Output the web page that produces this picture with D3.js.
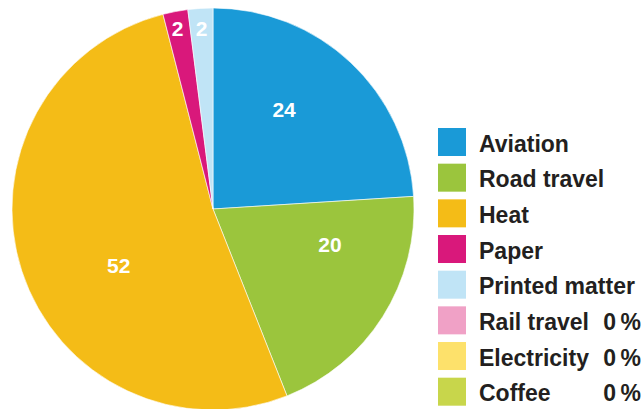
<!DOCTYPE html>
<html>
<head>
<meta charset="utf-8">
<script src="https://cdn.jsdelivr.net/npm/d3@7"></script>
<style>
  body { margin: 0; background: #fff; }
  svg { display: block; }
</style>
</head>
<body>
<svg id="svg"></svg>
<script>
// data (percent)
const categories = ["Aviation", "Road travel", "Heat", "Paper", "Printed matter", "Rail travel", "Electricity", "Coffee"];
const values = [24, 20, 52, 2, 2, 0, 0, 0];
const colors = ["#1a9ad7", "#9bc53d", "#f4bc17", "#d9187b", "#c0e4f6", "#f0a1c6", "#fde16b", "#c8d64b"];

// where each label sits inside its slice (fraction of slice angle, radius)
const labelFrac = [0.41, 0.285, 0.432, 0.46, 0.5];
const labelRad = [122.6, 122.3, 109.7, 183.8, 180.6];

const width = 644, height = 409;
const cx = 213, cy = 209, radius = 201;

const svg = d3.select("svg")
  .attr("width", width)
  .attr("height", height);

const data = categories.map((c, i) => ({name: c, value: values[i], color: colors[i]}));

const pie = d3.pie()
  .sort(null)
  .value(d => d.value);

const arc = d3.arc()
  .innerRadius(0)
  .outerRadius(radius);

const g = svg.append("g")
  .attr("transform", `translate(${cx},${cy})`);

const slices = pie(data);

g.selectAll("path")
  .data(slices.filter(d => d.value > 0))
  .enter()
  .append("path")
  .attr("d", arc)
  .attr("fill", d => d.data.color)
  .attr("stroke", "#fff")
  .attr("stroke-width", 0.6);

// slice labels
g.selectAll("text.lbl")
  .data(slices.filter(d => d.value > 0))
  .enter()
  .append("text")
  .attr("class", "lbl")
  .attr("transform", (d, i) => {
    const a = d.startAngle + (d.endAngle - d.startAngle) * labelFrac[i];
    const r = labelRad[i];
    return `translate(${r * Math.sin(a)},${-r * Math.cos(a)})`;
  })
  .attr("text-anchor", "middle")
  .attr("dy", "0.36em")
  .style("font-family", "'Liberation Sans', Arial, sans-serif")
  .style("font-weight", "bold")
  .style("font-size", "21px")
  .style("fill", "#fff")
  .text(d => d.value);

// legend
const legendY = d3.scaleBand()
  .domain(categories)
  .range([128, 128 + 34.8 * categories.length])
  .paddingInner(0.195)
  .paddingOuter(0);

const legend = svg.append("g");

const item = legend.selectAll("g")
  .data(data)
  .enter()
  .append("g")
  .attr("transform", d => `translate(438,${legendY(d.name)})`);

item.append("rect")
  .attr("width", 28)
  .attr("height", 28)
  .attr("fill", d => d.color);

item.append("text")
  .attr("x", 41)
  .attr("y", 23.7)
  .style("font-family", "'Liberation Sans', Arial, sans-serif")
  .style("font-weight", "bold")
  .style("font-size", "23px")
  .style("fill", "#231f20")
  .text(d => d.name);

item.filter(d => d.value === 0)
  .append("text")
  .attr("x", 203)
  .attr("y", 23.7)
  .attr("text-anchor", "end")
  .style("font-family", "'Liberation Sans', Arial, sans-serif")
  .style("font-weight", "bold")
  .style("font-size", "23px")
  .style("fill", "#231f20")
  .text(d => d.value + "\u202F%");
</script>
</body>
</html>
